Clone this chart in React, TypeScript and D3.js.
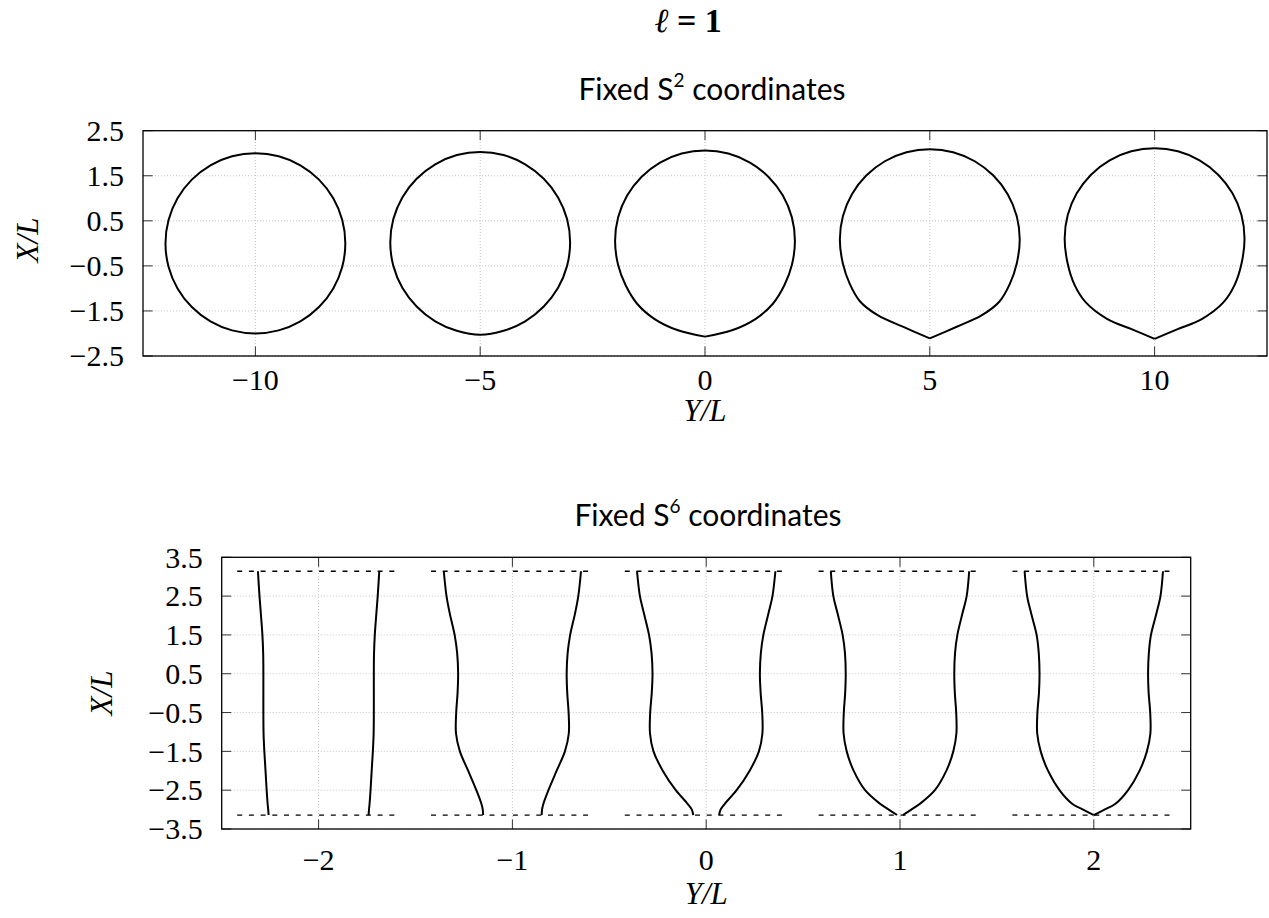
import React from "react";
import * as d3 from "d3";

const W = 1269;
const H = 918;

// ---- top panel: fixed S^2 coordinates ----
const s2Centers = [-10, -5, 0, 5, 10];
const s2XTicks = [-10, -5, 0, 5, 10];
const s2YTicks = [-2.5, -1.5, -0.5, 0.5, 1.5, 2.5];
// right half of every loop as [Y offset, X], read from top to bottom
const s2LoopA = [[0, 2.0], [0.518, 1.932], [1.0, 1.732], [1.414, 1.414], [1.732, 1.0], [1.932, 0.518], [2.0, 0], [1.932, -0.518], [1.732, -1.0], [1.414, -1.414], [1.0, -1.732], [0.518, -1.932], [0, -2.0]];
const s2LoopB = [[0, 2.03], [0.518, 1.96], [1.0, 1.755], [1.414, 1.434], [1.732, 1.02], [1.932, 0.538], [2.0, 0.02], [1.932, -0.5], [1.732, -0.985], [1.414, -1.4], [1.0, -1.73], [0.52, -1.94], [0, -2.03]];
const s2LoopC = [[0, 2.06], [0.518, 1.992], [1.0, 1.792], [1.414, 1.474], [1.732, 1.06], [1.932, 0.578], [2.0, 0.06], [1.935, -0.47], [1.77, -0.92], [1.51, -1.34], [1.12, -1.68], [0.6, -1.93], [0, -2.07]];
const s2LoopD = [[0, 2.09], [0.518, 2.022], [1.0, 1.822], [1.414, 1.504], [1.732, 1.09], [1.932, 0.608], [2.0, 0.09], [1.935, -0.44], [1.78, -0.9], [1.55, -1.29], [1.15, -1.6], [0.6, -1.85], [0, -2.11]];
const s2LoopE = [[0, 2.11], [0.518, 2.042], [1.0, 1.842], [1.414, 1.524], [1.732, 1.11], [1.932, 0.628], [2.0, 0.11], [1.935, -0.44], [1.78, -0.92], [1.53, -1.31], [1.05, -1.68], [0.5, -1.91], [0, -2.12]];
const s2Loops = [s2LoopA, s2LoopB, s2LoopC, s2LoopD, s2LoopE];
const s2Cusp = [false, false, true, true, true];

// ---- bottom panel: fixed S^6 coordinates ----
const s6Centers = [-2, -1, 0, 1, 2];
const s6XTicks = [-2, -1, 0, 1, 2];
const s6YTicks = [-3.5, -2.5, -1.5, -0.5, 0.5, 1.5, 2.5, 3.5];
const s6Levels = [3.14, 2.5, 2.05, 1.5, 1.03, 0.5, 0, -0.5, -1.04, -1.5, -1.99, -2.5, -2.85, -3.0, -3.14];
// Y offset of the right-hand wall of each strip (left wall is its mirror)
const s6WallA = [0.313, 0.305, 0.298, 0.29, 0.286, 0.285, 0.285, 0.285, 0.284, 0.28, 0.274, 0.268, 0.263, 0.26, 0.258];
const s6WallB = [0.354, 0.34, 0.323, 0.298, 0.285, 0.28, 0.283, 0.29, 0.291, 0.271, 0.229, 0.186, 0.16, 0.153, 0.151];
const s6WallC = [0.357, 0.342, 0.321, 0.295, 0.282, 0.277, 0.281, 0.289, 0.29, 0.272, 0.225, 0.157, 0.096, 0.074, 0.067];
const s6WallD = [0.357, 0.344, 0.322, 0.296, 0.284, 0.28, 0.283, 0.29, 0.291, 0.275, 0.24, 0.18, 0.103, 0.058, 0.015];
const s6WallE = [0.357, 0.344, 0.323, 0.295, 0.284, 0.28, 0.283, 0.291, 0.292, 0.274, 0.237, 0.177, 0.112, 0.055, 0.0];
const s6Walls = [s6WallA, s6WallB, s6WallC, s6WallD, s6WallE];
const s6Bounds = [3.14, -3.14];
const s6BoundHalfWidth = 0.42;

const serif = "'Liberation Serif', 'DejaVu Serif', serif";
const sans = "Lato, 'Liberation Sans', sans-serif";

const fmt = (v: number) => (v < 0 ? "\u2212" : "") + Math.abs(v);

type Sc = d3.ScaleLinear<number, number>;

const Frame = ({ x, y, xTicks, yTicks, tickY, labelY, labelX, labelXMid }: any) => {
  const [x0, x1] = x.range();
  const [y0, y1] = y.range();
  const tl = 9.5;
  return (
    <g>
      {xTicks.map((t: number, i: number) => (
        <line key={"gx" + i} x1={x(t)} x2={x(t)} y1={y0} y2={y1} stroke="#c4c4c4" strokeWidth={1} strokeDasharray="1 2" />
      ))}
      {yTicks.map((t: number, i: number) => (
        <line key={"gy" + i} x1={x0} x2={x1} y1={y(t)} y2={y(t)} stroke="#c4c4c4" strokeWidth={1} strokeDasharray="1 2" />
      ))}
      {xTicks.map((t: number, i: number) => (
        <g key={"tx" + i}>
          <line x1={x(t)} x2={x(t)} y1={y0} y2={y0 - tl} stroke="#333" strokeWidth={1} />
          <line x1={x(t)} x2={x(t)} y1={y1} y2={y1 + tl} stroke="#333" strokeWidth={1} />
          <text x={x(t)} y={tickY} textAnchor="middle" fontFamily={serif} fontSize={30}>
            {fmt(t)}
          </text>
        </g>
      ))}
      {yTicks.map((t: number, i: number) => (
        <g key={"ty" + i}>
          <line x1={x0} x2={x0 + tl} y1={y(t)} y2={y(t)} stroke="#333" strokeWidth={1} />
          <line x1={x1} x2={x1 - tl} y1={y(t)} y2={y(t)} stroke="#333" strokeWidth={1} />
          <text x={x0 - 19} y={y(t)} dy="0.34em" textAnchor="end" fontFamily={serif} fontSize={30}>
            {fmt(t)}
          </text>
        </g>
      ))}
      <rect x={x0} y={y1} width={x1 - x0} height={y0 - y1} fill="none" stroke="#000" strokeWidth={1.3} />
      <text x={(x0 + x1) / 2} y={labelY} textAnchor="middle" fontFamily={serif} fontStyle="italic" fontSize={31}>
        Y/L
      </text>
      <text
        transform={`translate(${labelX},${labelXMid}) rotate(-90)`}
        textAnchor="middle"
        fontFamily={serif}
        fontStyle="italic"
        fontSize={31}
      >
        X/L
      </text>
    </g>
  );
};

const Title = ({ cx, y, sup }: { cx: number; y: number; sup: string }) => (
  <text x={cx} y={y} textAnchor="middle" fontFamily={sans} fontSize={30}>
    <tspan>Fixed S</tspan>
    <tspan fontSize={19} dy={-13}>{sup}</tspan>
    <tspan dy={13}> coordinates</tspan>
  </text>
);

export default function App() {
  const tx: Sc = d3.scaleLinear().domain([-12.5, 12.5]).range([143, 1267]);
  const ty: Sc = d3.scaleLinear().domain([-2.5, 2.5]).range([356, 130.7]);
  const bx: Sc = d3.scaleLinear().domain([-2.5, 2.5]).range([221.7, 1190.7]);
  const by: Sc = d3.scaleLinear().domain([-3.5, 3.5]).range([829, 557.3]);

  const loopPath = (half: number[][], cusp: boolean, c: number) => {
    const right = half.map(([d, v]) => [c + d, v] as [number, number]);
    const left = half.map(([d, v]) => [c - d, v] as [number, number]);
    const ln = d3.line<[number, number]>().x((p) => tx(p[0])).y((p) => ty(p[1]));
    if (cusp) {
      // start and end at the cusp so the corner stays sharp
      const pts = [...right.slice().reverse(), ...left.slice(1)];
      return ln.curve(d3.curveCatmullRom)(pts) as string;
    }
    const pts = [...right, ...left.slice(1, -1).reverse()];
    return ln.curve(d3.curveCatmullRomClosed)(pts) as string;
  };

  const wallLine = d3
    .line<[number, number]>()
    .x((p) => bx(p[0]))
    .y((p) => by(p[1]))
    .curve(d3.curveCatmullRom);

  return (
    <svg width={W} height={H} style={{ position: "absolute", left: 0, top: 0, display: "block", background: "#fff" }}>
      <text x={688} y={32} textAnchor="middle" fontFamily={serif} fontSize={34} fontWeight="bold">
        <tspan fontStyle="italic" fontWeight="normal" fontFamily="'DejaVu Serif', serif">ℓ</tspan>
        <tspan> = 1</tspan>
      </text>

      <Title cx={712} y={100} sup="2" />
      <Frame x={tx} y={ty} xTicks={s2XTicks} yTicks={s2YTicks} tickY={390} labelY={421} labelX={38} labelXMid={240} />
      {s2Loops.map((half, i) => (
        <path key={"loop" + i} d={loopPath(half, s2Cusp[i], s2Centers[i])} fill="none" stroke="#000" strokeWidth={2} />
      ))}

      <Title cx={708} y={526} sup="6" />
      <Frame x={bx} y={by} xTicks={s6XTicks} yTicks={s6YTicks} tickY={870} labelY={904} labelX={112} labelXMid={693} />
      {s6Centers.map((c, i) => (
        <g key={"strip" + i}>
          {s6Bounds.map((b, j) => (
            <line
              key={j}
              x1={bx(c - s6BoundHalfWidth)}
              x2={bx(c + s6BoundHalfWidth)}
              y1={by(b)}
              y2={by(b)}
              stroke="#000"
              strokeWidth={1.3}
              strokeDasharray="5 6.7"
            />
          ))}
          <path
            d={wallLine(s6Levels.map((v, k) => [c + s6Walls[i][k], v] as [number, number])) as string}
            fill="none"
            stroke="#000"
            strokeWidth={2}
          />
          <path
            d={wallLine(s6Levels.map((v, k) => [c - s6Walls[i][k], v] as [number, number])) as string}
            fill="none"
            stroke="#000"
            strokeWidth={2}
          />
        </g>
      ))}
    </svg>
  );
}
